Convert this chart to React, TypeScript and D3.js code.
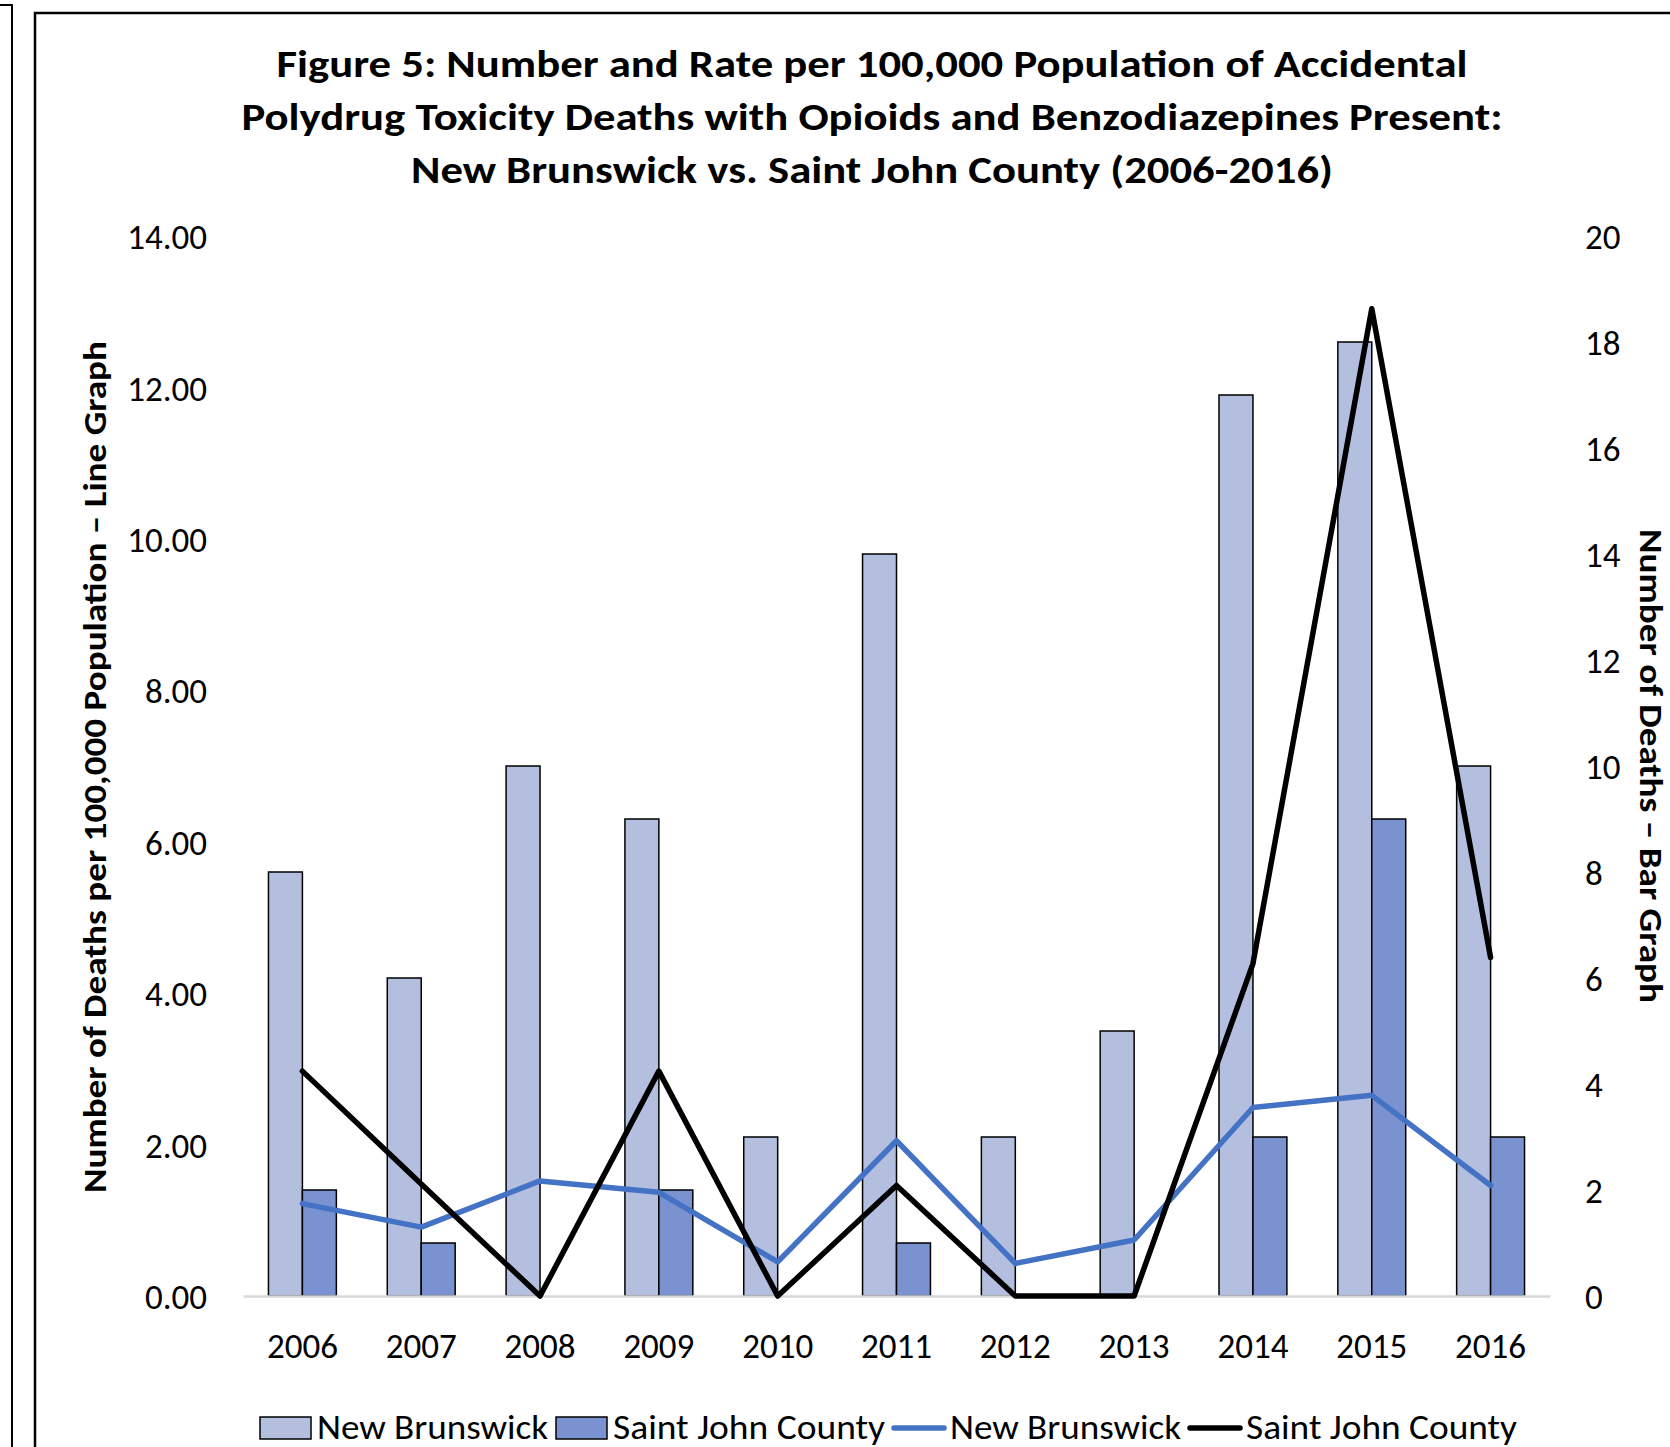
import { useEffect, useRef } from 'react';
import * as d3 from 'd3';

// chart values
const years = ['2006', '2007', '2008', '2009', '2010', '2011', '2012', '2013', '2014', '2015', '2016'];
const nbDeaths = [8, 6, 10, 9, 3, 14, 3, 5, 17, 18, 10];
const sjDeaths = [2, 1, 0, 2, 0, 1, 0, 0, 3, 9, 3];
const nbRate = [1.22, 0.91, 1.52, 1.37, 0.45, 2.05, 0.43, 0.74, 2.49, 2.65, 1.46];
const sjRate = [2.97, 1.48, 0, 2.97, 0, 1.46, 0, 0, 4.39, 13.04, 4.47];
const leftTicks = [0, 2, 4, 6, 8, 10, 12, 14];
const rightTicks = [0, 2, 4, 6, 8, 10, 12, 14, 16, 18, 20];

const titleLines = [
    'Figure 5: Number and Rate per 100,000 Population of Accidental',
    'Polydrug Toxicity Deaths with Opioids and Benzodiazepines Present:',
    'New Brunswick vs. Saint John County (2006-2016)',
];
const leftTitle = 'Number of Deaths per 100,000 Population \u2013 Line Graph';
const rightTitle = 'Number of Deaths \u2013 Bar Graph';
const legendLabels = ['New Brunswick', 'Saint John County', 'New Brunswick', 'Saint John County'];
const legendKinds = ['bar', 'bar', 'line', 'line'];

const W = 1670;
const H = 1447;
const FONT = 'Calibri, Carlito, Lato, sans-serif';
const NB_BAR = '#b4bfe0';
const SJ_BAR = '#7a92cf';
const NB_LINE = '#4472c4';
const SJ_LINE = '#000000';

export default function App() {
    const svgRef = useRef<SVGSVGElement>(null);

    useEffect(() => {
        const svg = d3.select(svgRef.current);
        svg.selectAll('*').remove();

        const plot = { left: 243, right: 1550, top: 236, bottom: 1296 };

        const x = d3.scaleBand().domain(years).range([plot.left, plot.right]);
        const xSub = d3.scaleBand().domain(['nb', 'sj']).range([0, x.bandwidth()]).paddingOuter(0.75);
        const yL = d3.scaleLinear().domain([0, 14]).range([plot.bottom, plot.top]);
        const yR = d3.scaleLinear().domain([0, 20]).range([plot.bottom, plot.top]);

        svg.append('rect').attr('width', W).attr('height', H).attr('fill', '#fff');

        // frames around the figure
        svg.append('path')
            .attr('d', `M0,5H12V${H}`)
            .attr('fill', 'none').attr('stroke', '#000').attr('stroke-width', 2);
        svg.append('rect')
            .attr('x', 35).attr('y', 13).attr('width', W).attr('height', H)
            .attr('fill', 'none').attr('stroke', '#000').attr('stroke-width', 2.5);

        // title
        const tw = [1191, 1261, 922];
        svg.append('g')
            .selectAll('text')
            .data(titleLines)
            .enter()
            .append('text')
            .attr('x', 872)
            .attr('y', (d, i) => 77 + i * 53)
            .attr('text-anchor', 'middle')
            .attr('textLength', (d, i) => tw[i])
            .attr('lengthAdjust', 'spacingAndGlyphs')
            .style('font-family', FONT)
            .style('font-weight', 700)
            .style('font-size', '38px')
            .text(d => d);

        // bars
        const bars = svg.append('g');
        years.forEach((yr, i) => {
            const vals = [['nb', nbDeaths[i], NB_BAR], ['sj', sjDeaths[i], SJ_BAR]];
            vals.forEach(([k, v, c]) => {
                if (v <= 0) return;
                bars.append('rect')
                    .attr('x', x(yr) + xSub(k))
                    .attr('y', yR(v))
                    .attr('width', xSub.bandwidth())
                    .attr('height', yR(0) - yR(v))
                    .attr('fill', c)
                    .attr('stroke', '#000')
                    .attr('stroke-width', 1.5);
            });
        });

        // axes
        const left = svg.append('g')
            .attr('transform', `translate(${plot.left},0)`)
            .call(d3.axisLeft(yL).tickValues(leftTicks).tickFormat(d3.format('.2f')).tickSize(0).tickPadding(36));
        left.select('.domain').remove();

        const right = svg.append('g')
            .attr('transform', `translate(${plot.right},0)`)
            .call(d3.axisRight(yR).tickValues(rightTicks).tickSize(0).tickPadding(35));
        right.select('.domain').remove();

        [left, right].forEach(g => {
            g.selectAll('text')
                .attr('dy', '0.36em')
                .style('font-family', FONT)
                .style('font-size', '35px')
                .attr('fill', '#000');
        });

        const bottom = svg.append('g')
            .attr('transform', `translate(0,${plot.bottom})`)
            .call(d3.axisBottom(x).tickSize(0).tickSizeOuter(0));
        bottom.select('.domain').attr('stroke', '#d9d9d9').attr('stroke-width', 2.5);
        bottom.selectAll('text')
            .attr('y', 62)
            .attr('dy', 0)
            .style('font-family', FONT)
            .style('font-size', '35px')
            .attr('fill', '#000');

        // lines
        const cx = (d, i) => x(years[i]) + x.bandwidth() / 2;
        const lineL = d3.line().x(cx).y(d => yL(d));
        [[nbRate, NB_LINE], [sjRate, SJ_LINE]].forEach(([vals, c]) => {
            svg.append('path')
                .datum(vals)
                .attr('d', lineL)
                .attr('fill', 'none')
                .attr('stroke', c)
                .attr('stroke-width', 5.5)
                .attr('stroke-linejoin', 'round')
                .attr('stroke-linecap', 'round');
        });

        // axis titles
        svg.append('text')
            .attr('transform', 'translate(106,767) rotate(-90)')
            .attr('text-anchor', 'middle')
            .attr('textLength', 852)
            .attr('lengthAdjust', 'spacingAndGlyphs')
            .style('font-family', FONT)
            .style('font-weight', 700)
            .style('font-size', '33px')
            .text(leftTitle);
        svg.append('text')
            .attr('transform', 'translate(1640,766) rotate(90)')
            .attr('text-anchor', 'middle')
            .attr('textLength', 474)
            .attr('lengthAdjust', 'spacingAndGlyphs')
            .style('font-family', FONT)
            .style('font-weight', 700)
            .style('font-size', '33px')
            .text(rightTitle);

        // legend
        const legendW = [231, 272, 231, 271];
        const fills = [NB_BAR, SJ_BAR, NB_LINE, SJ_LINE];
        let lx = 260;
        const ly = 1428;
        legendLabels.forEach((lab, i) => {
            const g = svg.append('g').attr('transform', `translate(${lx},${ly})`);
            if (legendKinds[i] === 'bar') {
                g.append('rect')
                    .attr('x', 0).attr('y', -11).attr('width', 51).attr('height', 22)
                    .attr('fill', fills[i]).attr('stroke', '#000').attr('stroke-width', 1.5);
            } else {
                g.append('line')
                    .attr('x1', 1).attr('x2', 51).attr('y1', 0).attr('y2', 0)
                    .attr('stroke', fills[i]).attr('stroke-width', 5.5).attr('stroke-linecap', 'round');
            }
            g.append('text')
                .attr('x', 57)
                .attr('y', 11)
                .attr('textLength', legendW[i])
                .attr('lengthAdjust', 'spacingAndGlyphs')
                .style('font-family', FONT)
                .style('font-size', '34px')
                .text(lab);
            lx += 57 + legendW[i] + 8;
        });
    }, []);

    return (
        <svg
            ref={svgRef}
            width={W}
            height={H}
            style={{ position: 'absolute', left: 0, top: 0, display: 'block' }}
        ></svg>
    );
}
